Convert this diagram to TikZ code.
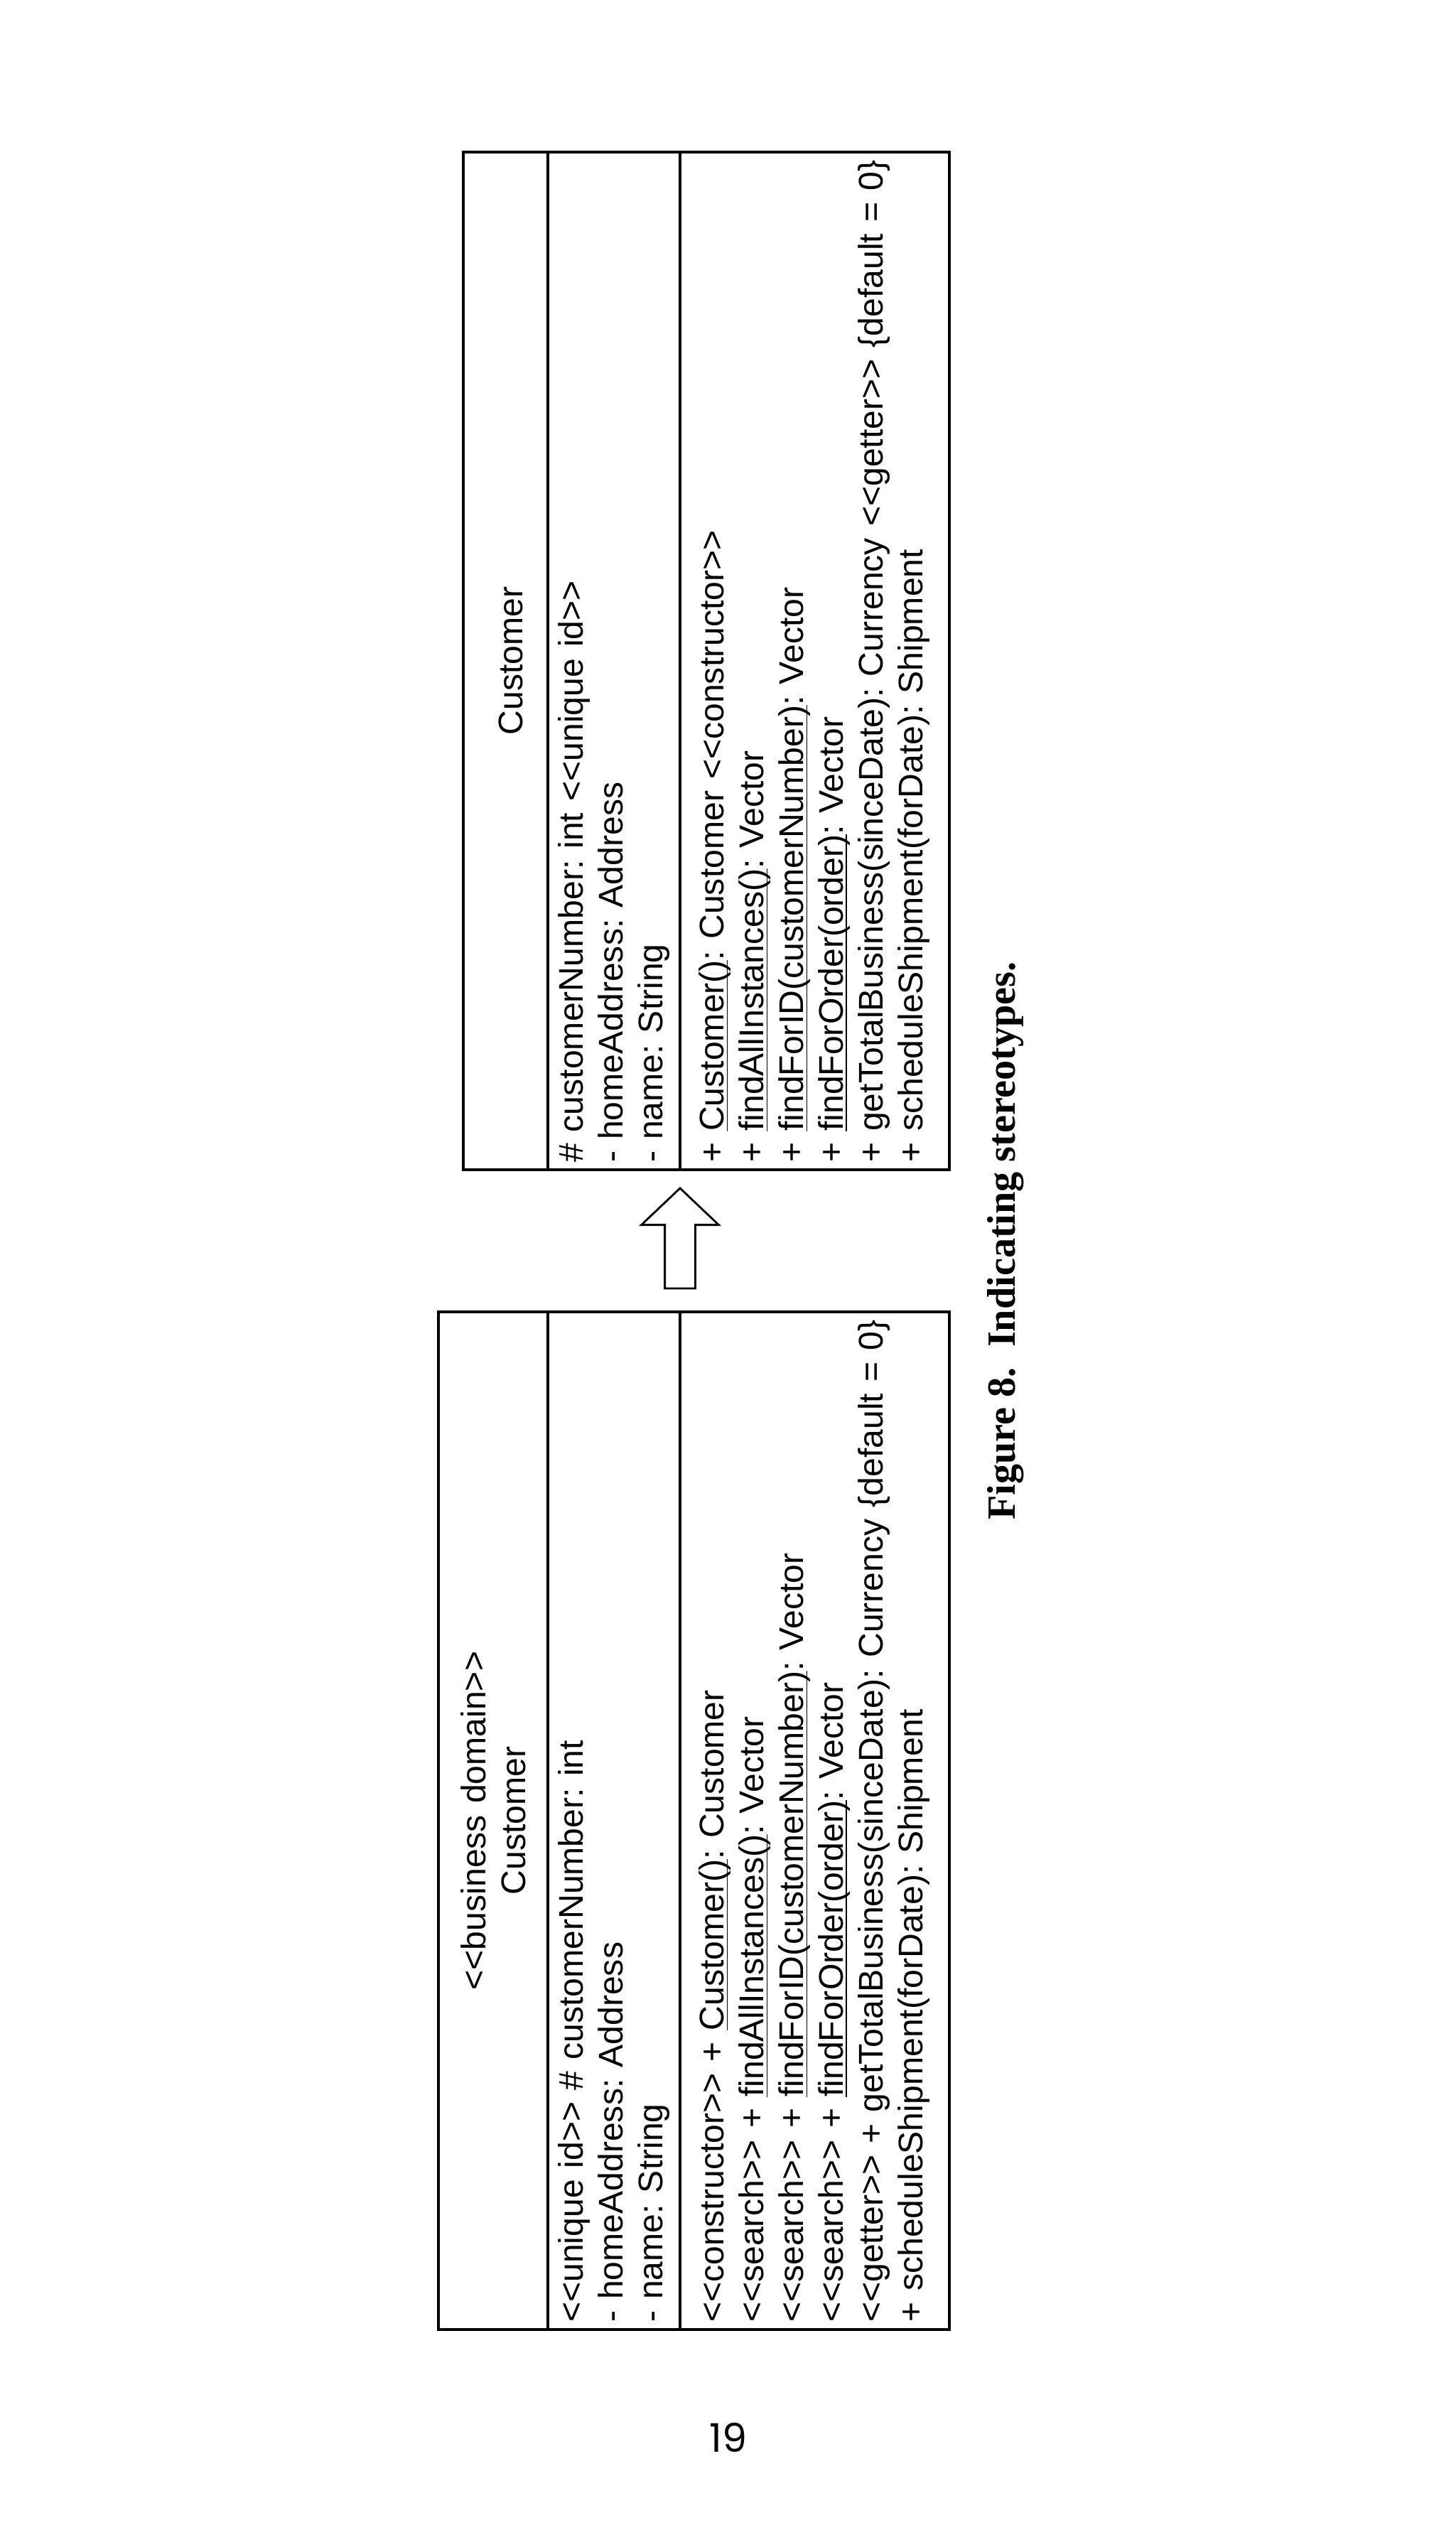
\documentclass[tikz,border=0pt]{standalone}
\usepackage{fontspec}
\usepackage{tikz}
\usetikzlibrary{shapes.arrows, positioning}
\newfontfamily\umlfont{Liberation Sans}
\newfontfamily\capfont{Liberation Serif}
\newfontfamily\pagefont{Poppins}
\newcommand{\ulname}[1]{\underline{\smash{#1}}}
\frenchspacing
\hfuzz=20pt
\tikzstyle{classbox} = [
    rectangle,
    minimum width=14.32cm,
    text width=14.12cm,
    inner xsep=0.1cm,
    inner ysep=0pt,
    outer sep=0pt,
    line width=0.9pt,
    draw=black,
    font=\umlfont\fontsize{13.7}{15.9}\selectfont
]
\tikzstyle{header} = [classbox, align=center]
\tikzstyle{compart} = [classbox, align=left]
\tikzstyle{refine} = [
    single arrow,
    single arrow head extend=0.33cm,
    single arrow tip angle=93,
    single arrow head indent=0pt,
    minimum height=1.41cm,
    inner sep=0.2cm,
    outer sep=0pt,
    line width=0.8pt,
    draw=black,
    fill=white
]

\begin{document}
\begin{tikzpicture}

\useasboundingbox[fill=white] (0,0) rectangle (20.48,35.84);

\begin{scope}[shift={(20.48,0)}, rotate=90, transform shape]

\node (bdops) [compart, minimum height=3.79cm, anchor=south west] at (3.06,7.12)
{<<constructor>> + \ulname{Customer()}: Customer\\
<<search>> + \ulname{findAllInstances()}: Vector\\
<<search>> + \ulname{findForID(customerNumber)}: Vector\\
<<search>> + \ulname{findForOrder(order)}: Vector\\
<<getter>> + getTotalBusiness(sinceDate):~Currency~\{default~=~0\}\\
+ scheduleShipment(forDate): Shipment};

\node (bdattr) [compart, minimum height=1.86cm, above=0pt of bdops]
{<<unique id>> \# customerNumber: int\\
- homeAddress: Address\\
- name: String};

\node (bdhead) [header, minimum height=1.54cm, above=0pt of bdattr]
{<<business domain>>\\Customer};

\node (shift) [refine, right=0.33cm of bdops.north east] {};

\node (cuops) [compart, minimum height=3.79cm, right=0.26cm of shift.tip, anchor=north west]
{+ \ulname{Customer()}: Customer <<constructor>>\\
+ \ulname{findAllInstances()}: Vector\\
+ \ulname{findForID(customerNumber)}: Vector\\
+ \ulname{findForOrder(order)}: Vector\\
+ getTotalBusiness(sinceDate):~Currency~<<getter>>~\{default~=~0\}\\
+ scheduleShipment(forDate): Shipment};

\node (cuattr) [compart, minimum height=1.86cm, above=0pt of cuops]
{\# customerNumber: int <<unique id>>\\
- homeAddress: Address\\
- name: String};

\node (cuhead) [header, minimum height=1.19cm, text height=0.49cm, above=0pt of cuattr]
{Customer};

\node (caption) [anchor=base, font=\capfont\bfseries\fontsize{16}{19}\selectfont] at (18.38,6.2)
{Figure 8.\ \ Indicating stereotypes.};

\end{scope}

\node (pagenum) [anchor=base, font=\pagefont\fontsize{15.8}{19}\selectfont] at (10.25,1.33) {19};

\end{tikzpicture}
\end{document}
